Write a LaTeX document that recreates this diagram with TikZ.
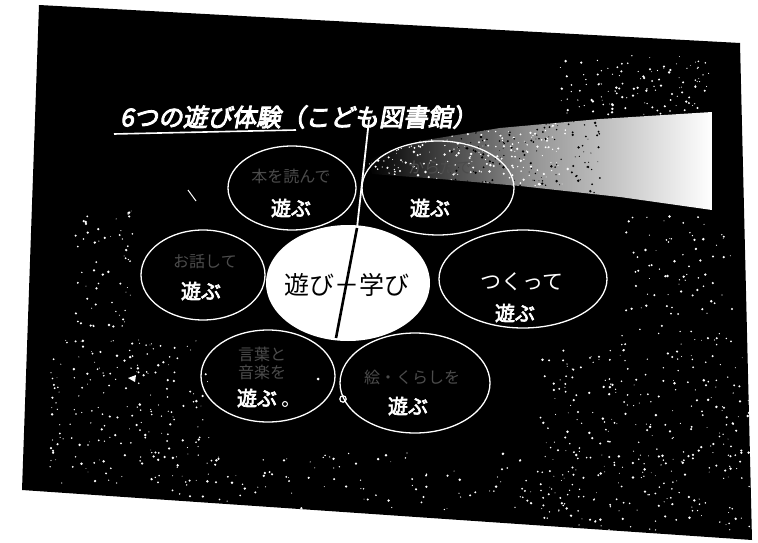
\documentclass[tikz,border=0pt]{standalone}
\usepackage{fontspec}
\newfontfamily\jp{Noto Sans CJK JP}
\newfontfamily\jpbold[FakeBold=3.5]{Noto Sans CJK JP}
\newfontfamily\jptitle[FakeBold=3.8,FakeSlant=0.18]{Noto Sans CJK JP}
\usetikzlibrary{shapes.geometric}
\tikzset{
  petal/.style={ellipse, draw=white, line width=1.3pt, inner sep=0pt},
  core/.style={ellipse, fill=white, inner sep=0pt},
  playtxt/.style={text=white, font=\jpbold\fontsize{20}{22}\selectfont, inner sep=0pt},
  thintxt/.style={text=white, font=\jp\fontsize{21}{23}\selectfont, inner sep=0pt},
  fainttxt/.style={text=white!30!black, font=\jp\fontsize{16}{18}\selectfont, inner sep=0pt},
  titletxt/.style={text=white, font=\jptitle\fontsize{24.5}{26}\selectfont, inner sep=0pt, anchor=west},
  centretxt/.style={text=black, font=\jp\fontsize{25}{27}\selectfont, inner sep=0pt},
}
\newcommand\myspeckle[7]{%
  \pgfmathsetseed{#6}%
  \foreach \k in {1,...,#5}{%
    \pgfmathsetmacro\sx{#1+rnd*#3}%
    \pgfmathsetmacro\sy{#2+rnd*#4}%
    \pgfmathsetmacro\sr{0.4+rnd*1.0}%
    \fill[#7] (\sx,\sy) circle (\sr pt);}}
\begin{document}
\begin{tikzpicture}[x=1pt,y=-1pt]
\useasboundingbox (0,0) rectangle (758,543);
\fill[white] (0,0) rectangle (758,543);
% the dark slide
\fill[black] (39,5) -- (740,43) -- (752,540) -- (22,490) -- cycle;
% bright streak of light
\begin{scope}
  \clip (368,160) -- (420,141) -- (500,128) -- (600,119) -- (712,112)
        -- (712,210) -- (620,197) -- (520,186) -- (440,179) -- (372,174) -- cycle;
  \shade[left color=black, right color=white, middle color=gray!80] (368,105) rectangle (712,215);
  \myspeckle{368}{105}{200}{110}{400}{7}{white}
  \myspeckle{450}{105}{150}{110}{220}{8}{black}
\end{scope}
% noise of the copy
\begin{scope}
  \clip (39,5) -- (740,43) -- (752,540) -- (22,490) -- cycle;
  \myspeckle{50}{340}{160}{145}{200}{11}{white}
  \myspeckle{75}{210}{60}{120}{60}{12}{white}
  \myspeckle{540}{350}{210}{180}{300}{13}{white}
  \myspeckle{560}{55}{150}{60}{120}{14}{white}
  \myspeckle{620}{215}{115}{130}{90}{15}{white}
  \myspeckle{140}{450}{540}{60}{150}{16}{white}
\end{scope}
% title
\node[titletxt] (title) at (120,117) {6つの遊び体験（こども図書館）};
\draw[white, line width=1.6pt] (114,134) coordinate (ul1) -- (296,130) coordinate (ul2);
% petals
\node[petal, minimum width=128, minimum height=84] (tl) at (292,188) {};
\node[petal, minimum width=152, minimum height=94] (tr) at (438,188) {};
\node[petal, minimum width=124, minimum height=90] (l) at (203,275) {};
\node[petal, minimum width=168, minimum height=98] (r) at (523,279) {};
\node[petal, minimum width=134, minimum height=92] (bl) at (268,376) {};
\node[petal, minimum width=150, minimum height=100] (br) at (415,383) {};
% centre
\node[core, minimum width=164, minimum height=116] (c) at (348,283) {};
% pen stroke across the sheet
\coordinate (p1) at (369,120);
\coordinate (p2) at (357,228);
\coordinate (p3) at (336,338);
\draw[white, line width=1.8pt] (p1) -- (p2);
\draw[black, line width=2.6pt] (p2) -- (p3);
% texts
\node[centretxt] (ct) at (347,285) {遊び－学び};
\node[fainttxt] (tlf) at (291,176) {本を読んで};
\node[playtxt] (tlp) at (291,208) {遊ぶ};
\node[fainttxt] (trf) at (440,168) {からだで};
\node[playtxt] (trp) at (430,208) {遊ぶ};
\node[fainttxt] (lf) at (205,262) {お話して};
\node[playtxt] (lp) at (201,291) {遊ぶ};
\node[thintxt] (rf) at (522,282) {つくって};
\node[playtxt] (rp) at (515,313) {遊ぶ};
\node[fainttxt, align=center] (blf) at (262,363) {言葉と\\音楽を};
\node[playtxt] (blp) at (257,398) {遊ぶ};
\node[fainttxt] (brf) at (412,377) {絵・くらしを};
\node[playtxt] (brp) at (408,406) {遊ぶ};
% small marks
\draw[white, line width=1pt] (285,404) circle (2.5pt);
\draw[white, line width=1.2pt] (343,399) circle (3.2pt);
\fill[white] (318,379) circle (1.5pt);
\draw[white, line width=1pt] (188,190) -- (196,201);
\fill[white] (128,378) -- (136,375) -- (135,382) -- cycle;
\end{tikzpicture}
\end{document}
